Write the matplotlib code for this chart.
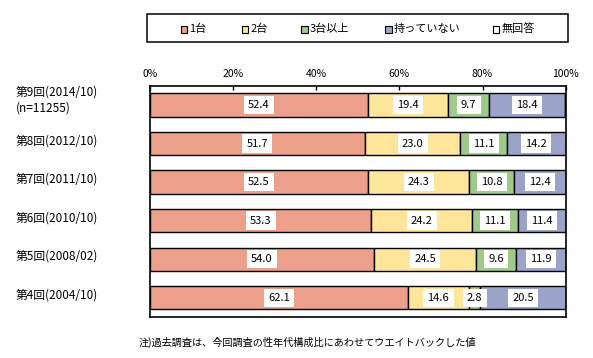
import matplotlib
matplotlib.use('Agg')
import matplotlib.pyplot as plt
from matplotlib.patches import Rectangle
import matplotlib.transforms as mtransforms

plt.rcParams['font.family'] = ['Noto Sans CJK JP', 'DejaVu Sans']

# ---- data ----
rounds = ['第9回(2014/10)\n(n=11255)', '第8回(2012/10)', '第7回(2011/10)',
          '第6回(2010/10)', '第5回(2008/02)', '第4回(2004/10)']
categories = ['1台', '2台', '3台以上', '持っていない', '無回答']
one_unit = [52.4, 51.7, 52.5, 53.3, 54.0, 62.1]
two_units = [19.4, 23.0, 24.3, 24.2, 24.5, 14.6]
three_plus = [9.7, 11.1, 10.8, 11.1, 9.6, 2.8]
not_owned = [18.4, 14.2, 12.4, 11.4, 11.9, 20.5]
no_answer = [0.1, 0.0, 0.0, 0.0, 0.0, 0.0]
xticks = [0, 20, 40, 60, 80, 100]
xtick_labels = ['0%', '20%', '40%', '60%', '80%', '100%']
note = '注)過去調査は、今回調査の性年代構成比にあわせてウエイトバックした値'

colors = ['#ECA08B', '#FDE699', '#A0CA8C', '#9BA3C8', '#FFFFFF']
series = [one_unit, two_units, three_plus, not_owned, no_answer]

W, H = 593, 358
fig = plt.figure(figsize=(W / 100, H / 100), dpi=100)

def fx(x):
    return x / W

def fy(y):
    return 1 - y / H

ax = fig.add_axes([fx(149.7), fy(317), (565.7 - 149.7) / W, (317 - 85.7) / H])

ypos = list(range(len(rounds)))
lefts = [0.0] * len(rounds)
for k, (vals, col) in enumerate(zip(series, colors)):
    for i, v in enumerate(vals):
        if v > 0:
            ax.barh(ypos[i], v, left=lefts[i], height=0.605, color=col,
                    edgecolor='black', linewidth=1.0, zorder=2)
            if k < 4:
                ax.text(lefts[i] + v / 2, ypos[i], f'{v:.1f}', ha='center', va='center',
                        fontsize=8, color='black', zorder=4,
                        bbox=dict(boxstyle='square,pad=0.38', facecolor='white',
                                  edgecolor='none'))
        lefts[i] += v

ax.set_xlim(0, 100)
ax.set_ylim(len(rounds) - 0.5, -0.5)
ax.set_yticks([])
ax.xaxis.tick_top()
ax.set_xticks(xticks)
ax.set_xticklabels(xtick_labels)
ax.tick_params(axis='x', direction='in', length=3, width=1, labelsize=7.5, pad=4.5)
for s in ax.spines.values():
    s.set_linewidth(1.2)
    s.set_color('black')

trans = mtransforms.blended_transform_factory(ax.transAxes, ax.transData)
for i, lab in enumerate(rounds):
    off = -0.14 if i == 0 else -0.07
    ax.text((15.7 - 149.7) / 416, ypos[i] + off, lab, transform=trans, ha='left',
            va='center', fontsize=8.5, linespacing=1.3)

# legend box
fig.patches.append(Rectangle((fx(147), fy(42.3)), fx(568 - 147), (42.3 - 14) / H,
                             transform=fig.transFigure, facecolor='white',
                             edgecolor='black', linewidth=1.1))
leg_x = [180.7, 241.7, 301.3, 385.0, 492.7]
for x, lab, col in zip(leg_x, categories, colors):
    fig.patches.append(Rectangle((fx(x), fy(32.5)), fx(6.5), 6.5 / H,
                                 transform=fig.transFigure, facecolor=col,
                                 edgecolor='black', linewidth=0.8))
    fig.text(fx(x + 8.5), fy(29), lab, ha='left', va='center', fontsize=8)

fig.text(fx(139), fy(342), note, ha='left', va='center', fontsize=7.3)

fig.savefig('out.png', dpi=100)
